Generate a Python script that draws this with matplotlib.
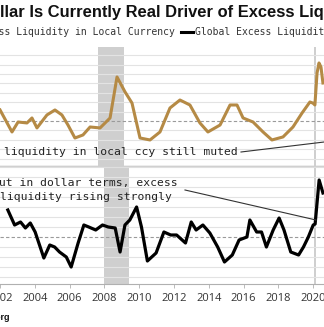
import matplotlib
matplotlib.use("Agg")
import matplotlib.pyplot as plt
from matplotlib.lines import Line2D

W, H = 324, 327
DPI = 100

# ---- data ----
local_years = [2002.45, 2003.12, 2003.46, 2003.96, 2004.24, 2004.52, 2005.08, 2005.53, 2005.92,
               2006.26, 2006.65, 2007.10, 2007.50, 2008.06, 2008.62, 2009.01, 2009.46, 2009.85,
               2010.30, 2010.86, 2011.42, 2011.98, 2012.54, 2013.10, 2013.66, 2014.11, 2014.79,
               2015.35, 2015.74, 2016.08, 2016.64, 2017.20, 2017.70, 2018.32, 2018.88, 2019.39,
               2019.83, 2020.00, 2020.11, 2020.23, 2020.34, 2020.45, 2020.56]
local_vals = [1.17, -1.17, -0.11, -0.21, 0.32, -0.74, 0.64, 1.17, 0.64,
              -0.43, -1.81, -1.49, -0.64, -0.74, 0.32, 4.68, 3.09, 1.91,
              -1.81, -2.02, -1.17, 1.38, 2.23, 1.70, -0.21, -1.17, -0.43,
              1.70, 1.70, 0.32, -0.11, -1.17, -2.02, -1.70, -0.64, 0.85,
              2.02, 1.90, 1.70, 5.11, 6.17, 5.74, 4.04]

usd_years = [2002.45, 2002.84, 2003.18, 2003.46, 2003.74, 2004.02, 2004.52, 2004.86, 2005.14,
             2005.42, 2005.81, 2006.09, 2006.49, 2006.82, 2007.10, 2007.50, 2007.89, 2008.22,
             2008.62, 2008.90, 2009.18, 2009.46, 2009.85, 2010.13, 2010.47, 2010.97, 2011.42,
             2011.81, 2012.15, 2012.66, 2012.99, 2013.27, 2013.66, 2014.06, 2014.51, 2014.90,
             2015.35, 2015.74, 2016.19, 2016.36, 2016.75, 2017.03, 2017.31, 2017.70, 2018.04,
             2018.32, 2018.71, 2019.16, 2019.44, 2019.72, 2020.00, 2020.11, 2020.34, 2020.56]
usd_vals = [2.7, 1.2, 1.5, 0.9, 1.4, 0.5, -2.1, -0.8, -1.0,
            -1.5, -2.0, -3.0, -0.6, 1.2, 1.0, 0.7, 1.2, 1.0,
            0.9, -1.5, 1.2, 1.7, 3.0, 1.0, -2.4, -1.6, 0.5,
            0.2, 0.2, -0.6, 1.5, 0.7, 1.2, 0.4, -1.0, -2.5,
            -1.8, -0.3, 0.0, 1.7, 0.5, 0.5, -1.0, 0.7, 1.9,
            0.7, -1.5, -1.8, -1.0, 0.0, 1.2, 1.3, 5.7, 4.4]

tick_years = [2002, 2004, 2006, 2008, 2010, 2012, 2014, 2016, 2018, 2020]
recessions = [(2007.95, 2009.40), (2020.07, 2020.17)]

title = "Dollar Is Currently Real Driver of Excess Liquidity"
legend_labels = ["Global Excess Liquidity in Local Currency", "Global Excess Liquidity in USD"]
note_top = "liquidity in local ccy still muted"
note_bot1 = "But in dollar terms, excess"
note_bot2 = "liquidity rising strongly"
source = "Source: Bloomberg"

GOLD = "#b58a45"
XLIM = (2002.447, 2020.62)

fig = plt.figure(figsize=(W / DPI, H / DPI), dpi=DPI)
fig.patch.set_facecolor("white")


def fx(px):
    return px / W


def fy(py):
    return 1 - py / H


ax1 = fig.add_axes([0, fy(166), 1, 119 / H])
ax2 = fig.add_axes([0, fy(284), 1, 118 / H])

for ax, ylim in ((ax1, (-4.79, 7.87)), (ax2, (-4.7, 7.1))):
    ax.set_xlim(*XLIM)
    ax.set_ylim(*ylim)
    ax.set_facecolor("none")
    for k in range(int(ylim[0]), int(ylim[1]) + 1):
        if k == 0:
            ax.axhline(0, color="#9a9a9a", lw=0.8, ls=(0, (3, 2)), zorder=1)
        else:
            ax.axhline(k, color="#e3e3e3", lw=0.8, zorder=1)
    for a, b in recessions:
        ax.axvspan(a, b, color="#cfcfcf", lw=0, zorder=0.5)
    ax.set_yticks([])
    for s in ("left", "right"):
        ax.spines[s].set_visible(False)

ax1.spines["top"].set_visible(False)
ax1.spines["bottom"].set_color("#d0d0d0")
ax1.spines["bottom"].set_linewidth(1.0)
ax1.set_xticks([])
ax2.spines["top"].set_color("#d0d0d0")
ax2.spines["top"].set_linewidth(1.0)
ax2.spines["bottom"].set_color("#b0b0b0")

ax1.plot(local_years, local_vals, color=GOLD, lw=2.2, zorder=3, solid_joinstyle="round")
ax2.plot(usd_years, usd_vals, color="black", lw=2.3, zorder=3, solid_joinstyle="round")

ax2.set_xticks(tick_years)
ax2.set_xticklabels([str(y) for y in tick_years], family="Open Sans", fontsize=8, color="#333333")
ax2.tick_params(axis="x", length=3, width=0.6, color="#b0b0b0", pad=3.5)

renderer = fig.canvas.get_renderer()


def text_width(s, **kw):
    t = fig.text(0, 0, s, **kw)
    w = t.get_window_extent(renderer).width
    t.remove()
    return w


# title
tkw = dict(family="Liberation Sans", fontweight="bold", fontsize=11.9, color="#111111")
off = text_width("Do", **tkw)
fig.text(fx(-off + 0.5), fy(13), title, ha="left", va="center", **tkw)

# legend
lkw = dict(family="DejaVu Sans Mono", fontsize=7, color="#333333")
fig.text(fx(175), fy(32), legend_labels[0], ha="right", va="center", **lkw)
fig.add_artist(Line2D([fx(181), fx(193)], [fy(32), fy(32)], color="black", lw=2.2,
                      transform=fig.transFigure))
fig.text(fx(195), fy(32), legend_labels[1], ha="left", va="center", **lkw)

# annotations
AFS = 8.2
akw = dict(family="DejaVu Sans Mono", fontsize=AFS, color="#222222")
adv = 0.602 * AFS * DPI / 72
fig.text(fx(4), fy(152), note_top, ha="left", va="center", **akw)
fig.add_artist(Line2D([fx(241), fx(330)], [fy(152), fy(141.3)], color="#333333", lw=0.8,
                      transform=fig.transFigure))
fig.text(fx(-adv - 1.0), fy(183), note_bot1, ha="left", va="center", **akw)
fig.text(fx(0.5), fy(197), note_bot2, ha="left", va="center", **akw)
fig.add_artist(Line2D([fx(185), fx(316)], [fy(190), fy(220)], color="#333333", lw=0.8,
                      transform=fig.transFigure))

# source
fig.text(fx(9), fy(318), source, ha="right", va="center", family="Liberation Sans",
         fontweight="bold", fontsize=6.5, color="#111111")

fig.savefig("out.png", dpi=DPI, facecolor="white")
